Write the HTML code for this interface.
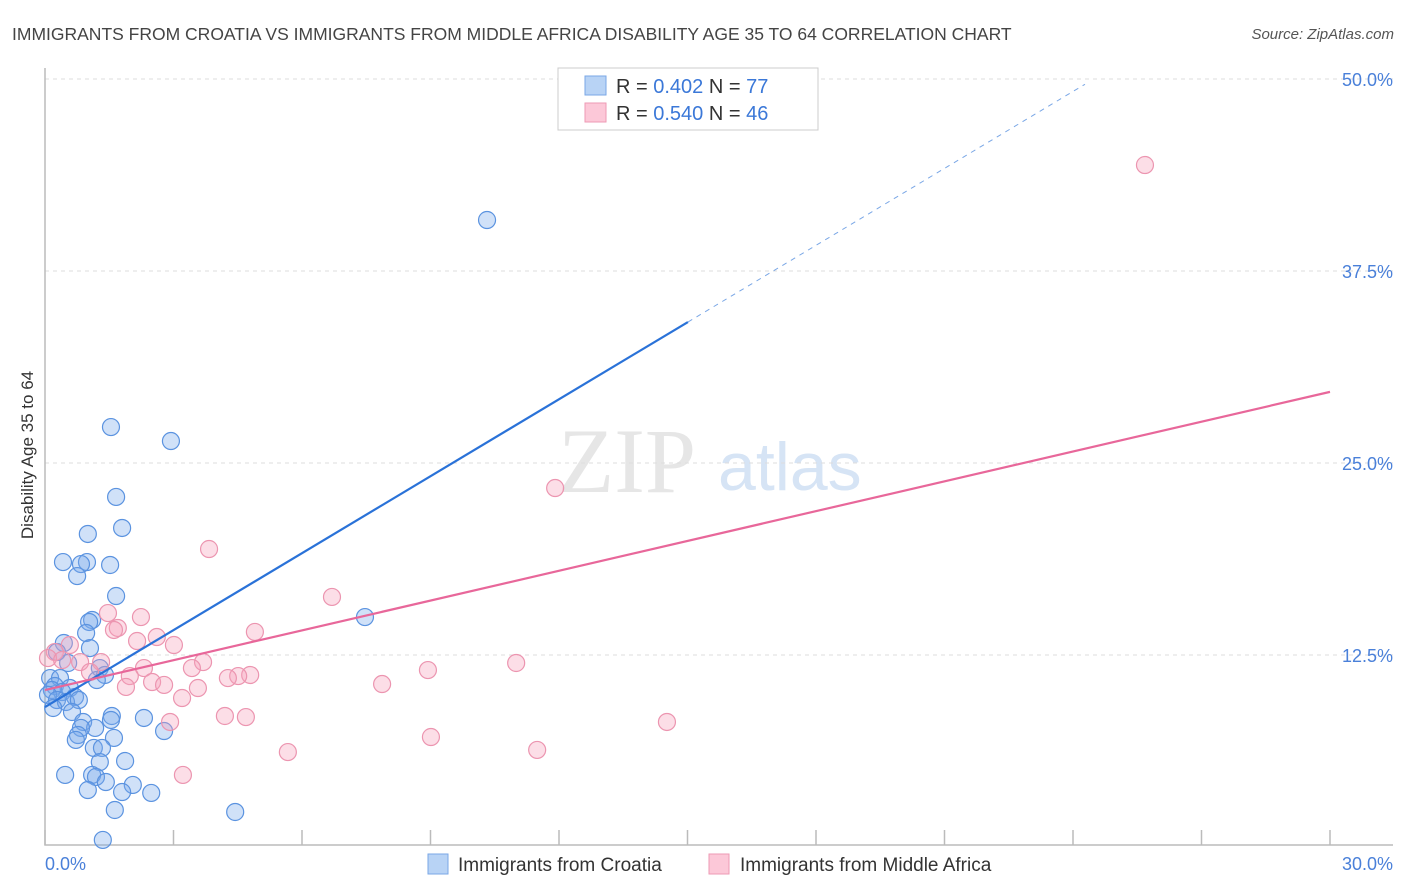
<!DOCTYPE html>
<html><head><meta charset="utf-8"><style>
body{margin:0;background:#fff;font-family:"Liberation Sans",sans-serif}
svg{display:block}
</style></head><body>
<svg id="chart" width="1406" height="892" xmlns="http://www.w3.org/2000/svg">
<text x="12" y="40" font-size="17.5" fill="#444">IMMIGRANTS FROM CROATIA VS IMMIGRANTS FROM MIDDLE AFRICA DISABILITY AGE 35 TO 64 CORRELATION CHART</text>
<text x="1394" y="39" font-size="15" font-style="italic" fill="#555" text-anchor="end">Source: ZipAtlas.com</text>
<g>
<text x="558" y="492" font-family="Liberation Serif,serif" font-size="92" fill="#e6e6e6">ZIP</text>
<text x="718" y="490" font-size="68" fill="#d6e4f5">atlas</text>
</g>
<g id="grid"></g>
<g id="axes"></g>
<g id="pts"></g>
<g id="lines"></g>
<text transform="translate(33,455) rotate(-90)" font-size="17" fill="#333" text-anchor="middle">Disability Age 35 to 64</text>
<g>
<rect x="558" y="68" width="260" height="62" fill="#fff" stroke="#ccc"/>
<rect x="585" y="76" width="21" height="19" fill="#b8d3f5" stroke="#7aa7e6"/>
<rect x="585" y="103" width="21" height="19" fill="#fcc8d8" stroke="#ee9ab4"/>
<text x="616" y="93" font-size="20" fill="#333">R = <tspan fill="#3b78d8">0.402</tspan>   N = <tspan fill="#3b78d8">77</tspan></text>
<text x="616" y="120" font-size="20" fill="#333">R = <tspan fill="#3b78d8">0.540</tspan>   N = <tspan fill="#3b78d8">46</tspan></text>
</g>
<g>
<rect x="428" y="854" width="20" height="20" fill="#b8d3f5" stroke="#7aa7e6"/>
<text x="458" y="871" font-size="19" fill="#333">Immigrants from Croatia</text>
<rect x="709" y="854" width="20" height="20" fill="#fcc8d8" stroke="#ee9ab4"/>
<text x="740" y="871" font-size="19" fill="#333">Immigrants from Middle Africa</text>
</g>
</svg>
<script>
const yTicks=[12.5,25,37.5,50];
const yTickLabels=["12.5%","25.0%","37.5%","50.0%"];
const xTickLabels=["0.0%","30.0%"];
const blueX=[10.32,1.54,2.94,1.66,1.80,1.00,0.42,0.98,0.84,1.52,0.75,1.66,7.47,1.10,1.03,0.96,0.44,1.05,0.28,0.54,1.28,1.40,0.12,0.35,1.21,0.23,0.58,0.16,0.40,0.07,0.70,0.28,0.49,0.79,0.19,0.63,2.31,1.56,1.54,0.89,1.17,0.84,2.78,0.77,1.61,0.72,1.14,1.33,1.28,1.87,0.47,1.10,1.19,1.42,2.05,1.00,1.80,2.48,1.63,4.44,1.35];
const blueY=[40.82,27.34,26.43,22.79,20.77,20.38,18.55,18.55,18.42,18.36,17.64,16.34,14.97,14.78,14.65,13.93,13.28,12.95,12.69,11.98,11.65,11.20,11.00,11.00,10.87,10.48,10.35,10.22,10.09,9.90,9.77,9.57,9.44,9.57,9.05,8.79,8.40,8.53,8.27,8.14,7.75,7.75,7.55,7.29,7.10,6.97,6.45,6.45,5.53,5.60,4.69,4.69,4.56,4.23,4.04,3.71,3.58,3.52,2.41,2.28,0.46];
const pinkX=[25.68,11.91,3.83,6.70,1.47,2.24,1.70,1.61,4.90,2.61,2.15,3.01,0.58,0.23,0.07,0.40,0.82,1.31,3.69,11.00,3.43,2.31,8.94,1.05,1.98,4.79,4.51,4.27,2.50,2.78,1.89,7.87,3.57,3.20,4.20,4.69,2.92,14.52,9.01,11.49,5.67,3.22];
const pinkY=[44.40,23.37,19.40,16.28,15.23,14.97,14.26,14.13,14.00,13.67,13.41,13.15,13.15,12.69,12.30,12.17,12.04,12.04,12.04,11.98,11.65,11.65,11.52,11.39,11.13,11.20,11.13,11.00,10.74,10.55,10.42,10.61,10.35,9.70,8.53,8.46,8.14,8.14,7.16,6.32,6.18,4.69];
const blueFit=[9.11,1.67];   // intercept, slope
const pinkFit=[10.22,0.647];
const NS="http://www.w3.org/2000/svg";
const X0=45,X1=1330,Y0=847,PPY=192/12.5;
const sx=v=>X0+(v/30)*(X1-X0);
const sy=v=>Y0-v*PPY;
function mk(tag,attrs,parent){const e=document.createElementNS(NS,tag);for(const k in attrs)e.setAttribute(k,attrs[k]);document.getElementById(parent).appendChild(e);return e;}
yTicks.forEach((t,i)=>{
 const g=mk('line',{x1:45,x2:1393,y1:sy(t),y2:sy(t),stroke:'#ddd','stroke-dasharray':'4,4'},'grid');
 
 
 const l=mk('text',{x:1393,y:sy(t)+7,'font-size':18,fill:'#4a80d9','text-anchor':'end'},'axes');
 l.textContent=yTickLabels[i];
 
 
});
const ax=mk('path',{d:'M45 68V845H1393',fill:'none',stroke:'#bbb','stroke-width':1.5},'axes');


for(let i=0;i<=10;i++){
 const t=mk('line',{x1:sx(i*3),x2:sx(i*3),y1:830,y2:845,stroke:'#bbb','stroke-width':1.5},'axes');
 
 
}
[[0,'start',45],[1,'end',1393]].forEach(([i,a,x])=>{
 const l=mk('text',{x:x,y:870,'font-size':18,fill:'#4a80d9','text-anchor':a},'axes');
 l.textContent=xTickLabels[i];
 
 
});
blueX.forEach((x,i)=>{
 const c=mk('circle',{cx:sx(x),cy:sy(blueY[i]),r:8.5,fill:'rgba(120,170,235,0.35)',stroke:'#5b93e0','stroke-width':1.2},'pts');
 
 
});
pinkX.forEach((x,i)=>{
 const c=mk('circle',{cx:sx(x),cy:sy(pinkY[i]),r:8.5,fill:'rgba(245,160,185,0.35)',stroke:'#ec95b0','stroke-width':1.2},'pts');
 
 
});
const bEnd=15.01,bDash=24.28;
const bl=mk('line',{x1:sx(0),y1:sy(blueFit[0]),x2:sx(bEnd),y2:sy(blueFit[0]+blueFit[1]*bEnd),stroke:'#2a72d8','stroke-width':2.2},'lines');


const bd=mk('line',{x1:sx(bEnd),y1:sy(blueFit[0]+blueFit[1]*bEnd),x2:sx(bDash),y2:sy(blueFit[0]+blueFit[1]*bDash),stroke:'#7aa7e6','stroke-width':1,'stroke-dasharray':'5,5'},'lines');


const pl=mk('line',{x1:sx(0),y1:sy(pinkFit[0]),x2:sx(30),y2:sy(pinkFit[0]+pinkFit[1]*30),stroke:'#e8679a','stroke-width':2.2},'lines');


</script>
</body></html>
